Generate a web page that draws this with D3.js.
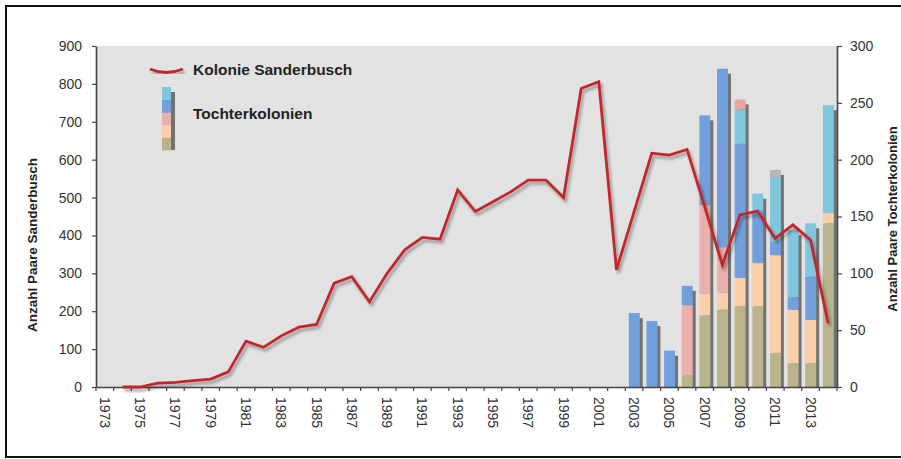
<!DOCTYPE html>
<html>
<head>
<meta charset="utf-8">
<script src="https://cdn.jsdelivr.net/npm/d3@7"></script>
<style>
  body { margin: 0; background: #fff; }
  svg text { font-family: "Liberation Sans", Arial, sans-serif; }
</style>
</head>
<body>
<svg width="901" height="459"></svg>
<script>
// Categories (years on the x axis)
var years = [1973, 1974, 1975, 1976, 1977, 1978, 1979, 1980, 1981, 1982, 1983, 1984, 1985, 1986,
             1987, 1988, 1989, 1990, 1991, 1992, 1993, 1994, 1995, 1996, 1997, 1998, 1999, 2000,
             2001, 2002, 2003, 2004, 2005, 2006, 2007, 2008, 2009, 2010, 2011, 2012, 2013, 2014];

// Kolonie Sanderbusch (left axis), one value per year, null = no count
var sanderbusch = [null, 0, 0, 10, 12, 17, 21, 40, 121, 105, 135, 158, 165, 274,
                   291, 225, 300, 362, 395, 390, 520, 463, 489, 515, 546, 546, 500, 788,
                   806, 309, 463, 617, 612, 627, 476, 322, 454, 464, 392, 428, 388, 168];

// Tochterkolonien (right axis), stacked, years 2003-2014
var barYears = [2003, 2004, 2005, 2006, 2007, 2008, 2009, 2010, 2011, 2012, 2013, 2014];
var colTan   = [0, 0, 0, 10, 63, 68, 71, 71, 30, 21, 21, 144];
var colPeach = [0, 0, 0, 0, 19, 15, 25, 38, 86, 47, 38, 9];
var colPink  = [0, 0, 0, 62, 78, 40, 0, 0, 0, 0, 0, 0];
var colBlue  = [65, 58, 32, 17, 79, 157, 118, 46, 12, 11, 38, 0];
var colCyan  = [0, 0, 0, 0, 0, 0, 30, 15, 56, 59, 47, 95];
var colRose  = [0, 0, 0, 0, 0, 0, 9, 0, 0, 0, 0, 0];
var colGrey  = [0, 0, 0, 0, 0, 0, 0, 0, 7, 0, 0, 0];

var leftTicks = [0, 100, 200, 300, 400, 500, 600, 700, 800, 900];
var rightTicks = [0, 50, 100, 150, 200, 250, 300];
var labelYears = [1973, 1975, 1977, 1979, 1981, 1983, 1985, 1987, 1989, 1991, 1993,
                  1995, 1997, 1999, 2001, 2003, 2005, 2007, 2009, 2011, 2013];

var seriesKeys = ["tan", "peach", "pink", "blue", "cyan", "rose", "grey"];
var seriesColors = {
  tan: "#bab48d", peach: "#fbcfa8", pink: "#eab0ad", blue: "#72a0dc",
  cyan: "#80c6de", rose: "#eca6a1", grey: "#b7b7b7"
};

// Set Scalable Vector Graphic and 2D Dimensions
var svg = d3.select("svg"),
    width = +svg.attr("width"),
    height = +svg.attr("height");

var plotLeft = 96, plotRight = 837, plotTop = 46, plotBottom = 387;

var defs = svg.append("defs");
var f = defs.append("filter").attr("id", "shadow")
    .attr("x", "-10%").attr("y", "-10%").attr("width", "130%").attr("height", "130%");
f.append("feDropShadow").attr("dx", 2).attr("dy", 3).attr("stdDeviation", 1.6)
    .attr("flood-color", "#000").attr("flood-opacity", 0.35);

// frame
svg.append("rect")
    .attr("x", 6).attr("y", 6)
    .attr("width", 910).attr("height", 451)
    .attr("fill", "#fff")
    .attr("stroke", "#111")
    .attr("stroke-width", 2);

// plot background
svg.append("rect")
    .attr("x", plotLeft).attr("y", plotTop)
    .attr("width", plotRight - plotLeft).attr("height", plotBottom - plotTop)
    .attr("fill", "#e2e2e2");

// scales
var x = d3.scaleBand().domain(years).range([plotLeft, plotRight]);
var yL = d3.scaleLinear().domain([0, 900]).range([plotBottom, plotTop]);
var yR = d3.scaleLinear().domain([0, 300]).range([plotBottom, plotTop]);
var bw = x.bandwidth();

// stacked bars
var table = barYears.map(function(yr, i) {
  return { year: yr, tan: colTan[i], peach: colPeach[i], pink: colPink[i], blue: colBlue[i],
           cyan: colCyan[i], rose: colRose[i], grey: colGrey[i] };
});
var stacked = d3.stack().keys(seriesKeys)(table);
var barX = function(yr) { return x(yr) + bw * 0.2; };
var barW = bw * 0.62;
var total = function(d) { return d3.sum(seriesKeys, function(k) { return d[k]; }); };

// bar shadows
svg.append("g").selectAll("rect")
  .data(table)
  .enter().append("rect")
    .attr("x", function(d) { return barX(d.year) + 3; })
    .attr("y", function(d) { return yR(total(d)) + 5; })
    .attr("width", barW)
    .attr("height", function(d) { return Math.max(0, plotBottom - yR(total(d)) - 5); })
    .attr("fill", "#5e5e5e")
    .attr("opacity", 0.85);

svg.append("g").selectAll("g")
  .data(stacked)
  .enter().append("g")
    .attr("fill", function(s) { return seriesColors[s.key]; })
  .selectAll("rect")
  .data(function(s) { return s; })
  .enter().append("rect")
    .attr("x", function(d) { return barX(d.data.year); })
    .attr("y", function(d) { return yR(d[1]); })
    .attr("width", barW)
    .attr("height", function(d) { return yR(d[0]) - yR(d[1]); });

// axes
var axisColor = "#444";
var gL = svg.append("g")
    .attr("transform", "translate(" + plotLeft + ",0)")
    .call(d3.axisLeft(yL).tickValues(leftTicks).tickSize(4).tickSizeOuter(0).tickPadding(10));
var gR = svg.append("g")
    .attr("transform", "translate(" + plotRight + ",0)")
    .call(d3.axisRight(yR).tickValues(rightTicks).tickSize(5).tickSizeOuter(0).tickPadding(8));
var gB = svg.append("g")
    .attr("transform", "translate(0," + plotBottom + ")")
    .call(d3.axisBottom(x).tickValues([]).tickSizeOuter(0));

[gL, gR, gB].forEach(function(g) {
  g.select(".domain").attr("stroke", axisColor).attr("stroke-width", 1.6);
  g.selectAll(".tick line").attr("stroke", axisColor).attr("stroke-width", 1.2);
  g.selectAll(".tick text").attr("font-size", 14).attr("fill", "#333")
    .attr("font-family", "'Liberation Sans', Arial, sans-serif");
});

// x ticks at band edges
var edges = years.map(function(yr) { return x(yr); }).concat([plotRight]);
gB.selectAll(".edge")
  .data(edges)
  .enter().append("line")
    .attr("class", "edge")
    .attr("x1", function(d) { return d; })
    .attr("x2", function(d) { return d; })
    .attr("y1", 0).attr("y2", 4)
    .attr("stroke", axisColor).attr("stroke-width", 1.2);

// year labels, rotated, reading top to bottom
gB.selectAll(".yl")
  .data(labelYears)
  .enter().append("text")
    .attr("class", "yl")
    .attr("transform", function(d) { return "translate(" + (x(d) + bw / 2) + ",10) rotate(90)"; })
    .attr("dy", "0.35em")
    .attr("text-anchor", "start")
    .attr("font-size", 14)
    .attr("fill", "#333")
    .text(function(d) { return d; });

// line Kolonie Sanderbusch
var lineData = years.map(function(yr, i) { return { year: yr, v: sanderbusch[i] }; });
var line = d3.line()
    .defined(function(d) { return d.v != null; })
    .x(function(d) { return x(d.year) + bw / 2; })
    .y(function(d) { return yL(d.v); });

svg.append("path")
    .datum(lineData)
    .attr("d", line)
    .attr("fill", "none")
    .attr("stroke", "#c3282c")
    .attr("stroke-width", 2.8)
    .attr("stroke-linejoin", "miter")
    .attr("filter", "url(#shadow)");

// axis titles
svg.append("text")
    .attr("transform", "translate(37,245) rotate(-90)")
    .attr("text-anchor", "middle")
    .attr("font-size", 13.5)
    .attr("font-weight", "bold")
    .attr("fill", "#222")
    .text("Anzahl Paare Sanderbusch");

svg.append("text")
    .attr("transform", "translate(897,219) rotate(-90)")
    .attr("text-anchor", "middle")
    .attr("font-size", 13)
    .attr("font-weight", "bold")
    .attr("fill", "#222")
    .text("Anzahl Paare Tochterkolonien");

// legend
var legend = svg.append("g").attr("class", "legend");
legend.append("path")
    .attr("d", "M150,69 Q166,76 183,69")
    .attr("fill", "none")
    .attr("stroke", "#c3282c")
    .attr("stroke-width", 2.8)
    .attr("filter", "url(#shadow)");
legend.append("text")
    .attr("x", 193).attr("y", 75)
    .attr("font-size", 15.5).attr("font-weight", "bold").attr("fill", "#222")
    .text("Kolonie Sanderbusch");

var legendKeys = ["tan", "peach", "pink", "blue", "cyan"];
var ly = d3.scaleBand().domain(legendKeys.slice().reverse()).range([87, 150]);
legend.append("rect")
    .attr("x", 165).attr("y", 92)
    .attr("width", 10).attr("height", 58)
    .attr("fill", "#5e5e5e").attr("opacity", 0.85);
legend.selectAll(".lk")
  .data(legendKeys)
  .enter().append("rect")
    .attr("class", "lk")
    .attr("x", 162)
    .attr("y", function(d) { return ly(d); })
    .attr("width", 9)
    .attr("height", ly.bandwidth() + 0.5)
    .attr("fill", function(d) { return seriesColors[d]; });
legend.append("text")
    .attr("x", 193).attr("y", 119)
    .attr("font-size", 15.5).attr("font-weight", "bold").attr("fill", "#222")
    .text("Tochterkolonien");
</script>
</body>
</html>
